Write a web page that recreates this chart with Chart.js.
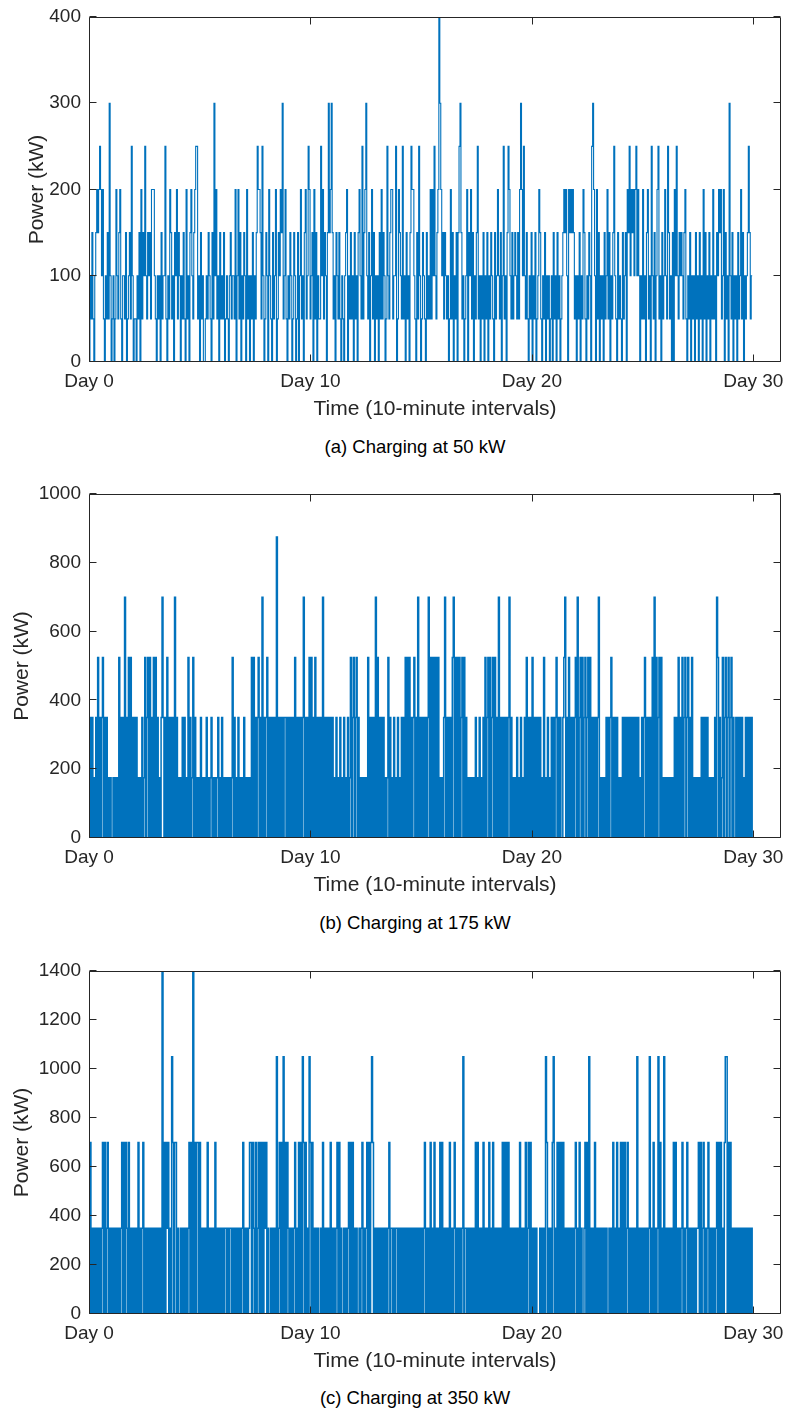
<!DOCTYPE html>
<html><head><meta charset="utf-8">
<script src="https://cdn.jsdelivr.net/npm/chart.js@4.4.0/dist/chart.umd.min.js"></script>
<style>
html,body{margin:0;padding:0;background:#fff;}
body{width:785px;height:1412px;position:relative;overflow:hidden;font-family:'Liberation Sans',Arial,Helvetica,sans-serif;}
canvas{position:absolute;left:0;}
.cap{position:absolute;left:215px;width:400px;text-align:center;font-size:18.5px;color:#000;line-height:20px;}
</style></head><body>
<canvas id="ca" width="785" height="432" style="top:0px"></canvas>
<canvas id="cb" width="785" height="448" style="top:460px"></canvas>
<canvas id="cc" width="785" height="444" style="top:940px"></canvas>
<div class="cap" id="capa" style="top:437px"></div>
<div class="cap" id="capb" style="top:913px"></div>
<div class="cap" id="capc" style="top:1388px"></div>
<script>
// ---- tick labels / axis values ----
const X_TICK_VALUES = [0, 1440, 2880, 4320];          // 10-minute intervals
const X_TICK_LABELS = ['Day 0', 'Day 10', 'Day 20', 'Day 30'];
const X_MAX = 4500;
const SAMPLE_STEP = 6.25;                             // intervals between samples
const Y_TICKS_A = [0, 100, 200, 300, 400];
const Y_TICKS_B = [0, 200, 400, 600, 800, 1000];
const Y_TICKS_C = [0, 200, 400, 600, 800, 1000, 1200, 1400];
const X_TITLE = 'Time (10-minute intervals)';
const Y_TITLE = 'Power (kW)';
const CAPTIONS = ['(a) Charging at 50 kW', '(b) Charging at 175 kW', '(c) Charging at 350 kW'];

// ---- series: one digit per sample, digit = multiples of the charger power ----
const UNIT_A = 50, UNIT_B = 175, UNIT_C = 350;
const SERIES_A = [
'021310 234345 424102 131620','120142 134102 213012 315201','102130 413252 132314 442102',
'120312 251021 431203 241320','213104 120342 134551 203120','012132 103162 412031 213012',
'102312 214024 130213 204120','213021 354431 520132 042103','124013 243612 410213 201320',
'130241 203412 541230 413021','152413 203634 631203 213102','102340 213120 312034 215134',
'621302 413021 203141 320152','134412 250143 215120 312035','442103 152013 210312 141425',
'213486 423132 120141 302130','356312 012403 241302 135120','213021 302132 103124 213025',
'120354 213123 213146 425213','102130 213012 431021 302120','120312 031201 234342 043434',
'312021 302143 102132 056420','413021 203124 130213 521031','210312 304352 434245 242021',
'412034 120521 302451 203124','215312 030425 213232 134102','130212 031203 120413 021302',
'141203 243412 403120 621302','120312 413021 235312 2'];
const SERIES_B = [
'020201 020302 023020 201010','010101 030202 040203 030202','020101 020130 230302 030302',
'010242 020302 020204 020101','020201 030201 302010 102010','102010 120101 012010 201010',
'101013 020102 010102 010101','030302 023020 402023 020202','020502 020202 202020 202030',
'202020 240202 030302 030202','020402 020202 020102 010201','020102 013023 023020 101010',
'103020 202040 302020 201013','020102 010201 020203 030302','023020 402020 202024 030303',
'030301 010240 202020 340303','030230 302010 101010 201020','102030 230302 303020 402020',
'202024 020101 020102 010203','020203 020202 020103 010201','020202 302020 023402 030202',
'023040 230302 302303 020202','024010 101020 202302 020201','010202 020202 020202 020102',
'023020 202030 403023 030101','010101 010202 030203 023023','020301 010101 020202 020101',
'010204 302013 023023 023020','020202 020102 020202 0'];
const SERIES_C = [
'020101 010101 012020 120101','010101 010120 202102 010101','010201 012010 101010 101010',
'101040 202120 103202 201001','010101 012020 402022 020101','010201 010102 010101 010110',
'101101 010101 010120 101012','202102 012020 202120 100101','010301 202030 202101 010120',
'102020 320201 032020 101010','010201 010102 010101 202010','010101 202020 101001 012010',
'120202 320101 010101 010101','201101 011010 101010 101010','101010 101010 120101 020102',
'010102 020101 010201 012010','101013 011010 101010 202010','102010 102010 201010 101020',
'202020 101010 101020 101020','120201 010100 010101 032010','102301 020202 020101 010101',
'012010 201001 202030 101020','101010 101010 010102 010201','020202 012010 101010 301010',
'101010 130102 010130 201030','101010 102020 101012 010120','101010 101120 201201 012010',
'101012 020201 023302 020101','010101 010101 010101 0'];

const LINE_COLOR = '#0072BD';
const TEXT_COLOR = '#262626';
const AXIS_COLOR = '#262626';
const TICK_LEN = 7;

function decode(rows, unit) {
  const s = rows.join('').replace(/\s/g, '');
  const pts = [];
  for (let i = 0; i < s.length; i++) pts.push({x: i * SAMPLE_STEP, y: Number(s[i]) * unit});
  return pts;
}

const boxTicks = {
  id: 'boxTicks',
  afterDatasetsDraw(chart) {
    const {ctx, chartArea: a} = chart;
    const xs = chart.scales.x, ys = chart.scales.y;
    ctx.save();
    ctx.strokeStyle = AXIS_COLOR;
    ctx.lineWidth = 1;
    ctx.beginPath();
    const L = a.left + 0.5, R = a.right - 0.5, T = a.top + 0.5, B = a.bottom - 0.5;
    ctx.rect(L, T, R - L, B - T);
    xs.ticks.forEach(t => {
      const p = Math.round(xs.getPixelForValue(t.value)) + 0.5;
      ctx.moveTo(p, B); ctx.lineTo(p, B - TICK_LEN);
      ctx.moveTo(p, T); ctx.lineTo(p, T + TICK_LEN);
    });
    ys.ticks.forEach(t => {
      const p = Math.round(ys.getPixelForValue(t.value)) - 0.5;
      ctx.moveTo(L, p); ctx.lineTo(L + TICK_LEN, p);
      ctx.moveTo(R, p); ctx.lineTo(R - TICK_LEN, p);
    });
    ctx.stroke();
    ctx.restore();
  }
};

Chart.defaults.font.family = "'Liberation Sans', Arial, Helvetica, sans-serif";
Chart.defaults.color = TEXT_COLOR;

function makeChart(id, rows, unit, yTicks, padTop, yTitleCenter, lineWidth) {
  const fontTitle = {size: 21};
  return new Chart(document.getElementById(id), {
    type: 'line',
    data: {datasets: [{
      data: decode(rows, unit), borderColor: LINE_COLOR, borderWidth: lineWidth,
      pointRadius: 0, stepped: true, fill: false, tension: 0
    }]},
    options: {
      responsive: false, animation: false, events: [],
      layout: {padding: {top: padTop, right: 4, left: 0, bottom: 0}},
      plugins: {legend: {display: false}, tooltip: {enabled: false}},
      scales: {
        x: {
          type: 'linear', min: 0, max: X_MAX,
          afterBuildTicks: s => { s.ticks = X_TICK_VALUES.map(v => ({value: v})); },
          afterFit: s => { s.height = 70; s.paddingRight = 0; s.paddingLeft = 0; },
          grid: {display: false, drawTicks: false}, border: {display: false},
          ticks: {autoSkip: false, maxRotation: 0, padding: 8, font: {size: 19}, color: TEXT_COLOR,
                  callback: (v, i) => X_TICK_LABELS[i]},
          title: {display: true, text: X_TITLE, font: fontTitle, color: TEXT_COLOR, padding: {top: 0, bottom: 10}}
        },
        y: {
          min: yTicks[0], max: yTicks[yTicks.length - 1],
          afterBuildTicks: s => { s.ticks = yTicks.map(v => ({value: v})); },
          afterFit: s => { s.width = 89; s.paddingTop = 0; s.paddingBottom = 0; },
          grid: {display: false, drawTicks: false}, border: {display: false},
          ticks: {autoSkip: false, padding: 8, font: {size: 19}, color: TEXT_COLOR,
                  callback: v => String(v)},
          title: {display: true, text: Y_TITLE, font: fontTitle, color: TEXT_COLOR,
                  padding: {top: yTitleCenter - 12.6, bottom: 0}}
        }
      }
    },
    plugins: [boxTicks]
  });
}

makeChart('ca', SERIES_A, UNIT_A, Y_TICKS_A, 17, 37, 1.1);
makeChart('cb', SERIES_B, UNIT_B, Y_TICKS_B, 34, 22, 1.5);
makeChart('cc', SERIES_C, UNIT_C, Y_TICKS_C, 31, 22, 1.5);
document.getElementById('capa').textContent = CAPTIONS[0];
document.getElementById('capb').textContent = CAPTIONS[1];
document.getElementById('capc').textContent = CAPTIONS[2];
</script>
</body></html>
